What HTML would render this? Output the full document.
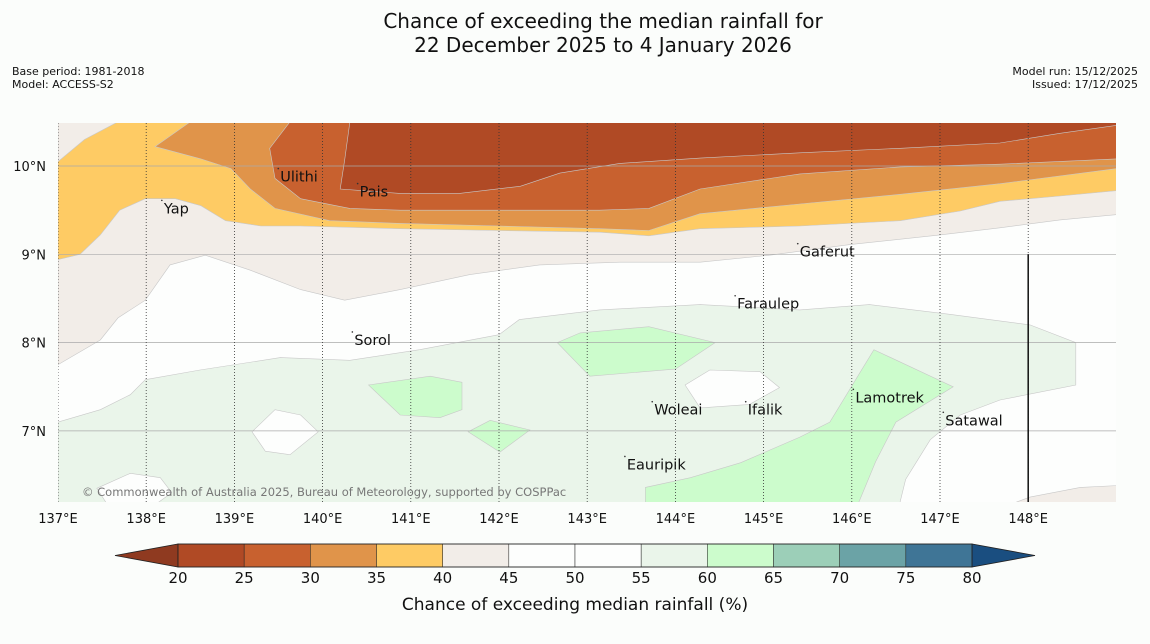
<!DOCTYPE html>
<html><head><meta charset="utf-8"><style>
body{margin:0;background:#fbfdfb;font-family:"DejaVu Sans","Liberation Sans",sans-serif;}
#wrap{position:relative;width:1150px;height:644px;overflow:hidden;}
</style></head><body>
<div id="wrap">
<svg id="svg" width="1150" height="644" xmlns="http://www.w3.org/2000/svg" font-family="DejaVu Sans, Liberation Sans, sans-serif">
<text x="603" y="28" text-anchor="middle" font-size="20" fill="#111">Chance of exceeding the median rainfall for</text>
<text x="603" y="52" text-anchor="middle" font-size="20" fill="#111">22 December 2025 to 4 January 2026</text>
<text x="12" y="75" font-size="11" fill="#111">Base period: 1981-2018</text>
<text x="12" y="88" font-size="11" fill="#111">Model: ACCESS-S2</text>
<text x="1138" y="75" font-size="11" text-anchor="end" fill="#111">Model run: 15/12/2025</text>
<text x="1138" y="88" font-size="11" text-anchor="end" fill="#111">Issued: 17/12/2025</text>
<defs><clipPath id="mc"><rect x="58" y="123" width="1058" height="379"/></clipPath></defs>
<g id="map" clip-path="url(#mc)"></g>
<g id="over"></g>
<g id="cbar"></g>
</svg>
</div>
<script>
const lonTicks=[137,138,139,140,141,142,143,144,145,146,147,148];
const latTicks=[7,8,9,10];
const cbLevels=[20,25,30,35,40,45,50,55,60,65,70,75,80];
const cbColors=["#b04a25","#c8612f","#e0944a","#fecb64","#f2ede8","#fdfefd","#fdfefd","#eaf5ea","#ccfccc","#9ccfb8","#6ba3a6","#3f7596"];
// contour regions [lon,lat]
const beige=[[137,10.5],[137,7.75],[137.48,8.03],[137.68,8.28],[137.99,8.48],[138.27,8.88],[138.67,8.99],[139.18,8.82],[139.75,8.6],[140.25,8.48],[140.88,8.6],[141.67,8.77],[142.46,8.88],[143.37,8.91],[144.28,8.91],[145.07,8.99],[145.98,9.11],[147,9.22],[147.68,9.3],[148.36,9.39],[149,9.45],[149,10.5]];
const yellow=[[137.68,10.5],[137.3,10.3],[137,10.05],[137,8.94],[137.25,9],[137.48,9.22],[137.7,9.5],[137.99,9.63],[138.33,9.63],[138.62,9.55],[138.9,9.38],[139.3,9.32],[139.75,9.32],[140.88,9.29],[142,9.27],[143.14,9.25],[143.7,9.21],[144.28,9.29],[145.41,9.32],[146.55,9.38],[147.23,9.49],[147.68,9.6],[148.36,9.66],[149,9.72],[149,10.5]];
const orange=[[138.5,10.5],[138.1,10.22],[138.62,10.08],[138.96,9.97],[139.18,9.74],[139.46,9.52],[140.08,9.38],[140.88,9.35],[142,9.32],[143.14,9.29],[143.7,9.27],[144.28,9.46],[145.41,9.57],[146.55,9.68],[147.68,9.8],[149,9.97],[149,10.5]];
const red=[[139.63,10.5],[139.4,10.2],[139.46,9.86],[139.75,9.63],[140.31,9.52],[140.88,9.5],[142,9.5],[143.14,9.5],[143.7,9.52],[144.28,9.74],[145.41,9.91],[146.55,9.99],[147.68,10.02],[149,10.08],[149,10.5]];
const dark=[[140.31,10.5],[140.25,10.07],[140.2,9.74],[140.88,9.69],[141.55,9.69],[142.24,9.77],[142.69,9.92],[143.37,10.03],[144.28,10.09],[145.41,10.15],[146.55,10.2],[147.68,10.26],[148.36,10.37],[149,10.46],[149,10.5]];
const green=[[137,6.0],[137,7.1],[137.48,7.24],[137.82,7.41],[137.99,7.58],[138.61,7.69],[139.52,7.83],[140.31,7.8],[141.1,7.92],[142,8.09],[142.23,8.26],[143.14,8.37],[144.28,8.43],[145.41,8.37],[146.2,8.43],[147.11,8.32],[148.02,8.2],[148.54,8.0],[148.54,7.52],[147.68,7.35],[147.23,7.18],[146.89,6.9],[146.61,6.45],[146.5,6.0]];
const white1=[[139.2,6.99],[139.46,7.24],[139.75,7.18],[139.95,6.99],[139.63,6.73],[139.35,6.77]];
const white2=[[137.44,6.35],[137.82,6.52],[138.16,6.47],[138.29,6.3],[138.04,6.12],[137.59,6.12]];
const white3=[[144.11,7.52],[144.39,7.69],[144.96,7.67],[145.18,7.49],[144.84,7.3],[144.28,7.26]];
const beige2=[[147.34,6.0],[148.02,6.25],[148.59,6.36],[149,6.38],[149,6.0]];
const bg1=[[140.52,7.52],[141.22,7.62],[141.58,7.55],[141.58,7.24],[141.33,7.15],[140.88,7.18]];
const bg2=[[141.65,6.99],[141.9,7.12],[142.35,7.01],[142.01,6.76]];
const bg3=[[142.66,8.0],[142.92,8.11],[143.7,8.18],[144.45,8.0],[144.0,7.7],[143.03,7.62]];
const bg4=[[143.66,6.0],[143.66,6.36],[144.17,6.47],[144.74,6.64],[145.41,6.93],[145.75,7.1],[146.25,7.92],[147.15,7.5],[146.5,7.1],[146.27,6.65],[146.0,6.0]];
const places=[["Yap",138.2,9.52],["Ulithi",139.52,9.88],["Pais",140.42,9.71],["Gaferut",145.41,9.03],["Faraulep",144.7,8.44],["Sorol",140.36,8.03],["Woleai",143.76,7.24],["Ifalik",144.82,7.24],["Lamotrek",146.04,7.38],["Satawal",147.06,7.12],["Eauripik",143.45,6.62]];
const X=lon=>58+(lon-137)*88.2;
const Y=lat=>166+(10-lat)*88.3;
const NS="http://www.w3.org/2000/svg";
function mk(t,a,p){const e=document.createElementNS(NS,t);for(const k in a)e.setAttribute(k,a[k]);p.appendChild(e);return e;}
const map=document.getElementById('map'),over=document.getElementById('over'),cb=document.getElementById('cbar');
let r=mk('rect',{x:58,y:123,width:1058,height:379,fill:'#fdfefd'},map);


const regions=[["region-lt45",beige,"#f2ede8"],["region-lt40",yellow,"#fecb64"],["region-lt35",orange,"#e0944a"],["region-lt30",red,"#c8612f"],["region-lt25",dark,"#b04a25"],["region-gt55",green,"#eaf5ea"],["region-45-55-a",white1,"#fdfefd"],["region-45-55-b",white2,"#fdfefd"],["region-gt60-a",bg1,"#ccfccc"],["region-gt60-b",bg2,"#ccfccc"],["region-gt60-c",bg3,"#ccfccc"],["region-gt60-d",bg4,"#ccfccc"],["region-45-55-c",white3,"#fdfefd"],["region-lt45-se",beige2,"#f2ede8"]];
regions.forEach(([n,pts,c])=>{
 const p=mk('polygon',{points:pts.map(q=>X(q[0]).toFixed(1)+','+Y(q[1]).toFixed(1)).join(' '),fill:c,stroke:'#c8c8c8','stroke-width':0.6},map);
 
 
});
latTicks.forEach(l=>{
 const ln=mk('line',{x1:58,x2:1116,y1:Y(l),y2:Y(l),stroke:'#aaa','stroke-width':0.7},map);
 
 
 const t=mk('text',{x:46,y:Y(l)+5,'text-anchor':'end','font-size':13,fill:'#111'},over);t.textContent=l+'°N';
 
 
});
lonTicks.forEach(l=>{
 const ln=mk('line',{x1:X(l),x2:X(l),y1:123,y2:502,stroke:'#333','stroke-width':0.8,'stroke-dasharray':'1,2'},map);
 
 
 const t=mk('text',{x:X(l),y:523,'text-anchor':'middle','font-size':13,fill:'#111'},over);t.textContent=l+'°E';
 
 
});
let bl=mk('line',{x1:X(148),x2:X(148),y1:Y(9),y2:502,stroke:'#111','stroke-width':1.5},over);


places.forEach(([n,lo,la])=>{
 const t=mk('text',{x:X(lo),y:Y(la)+5,'font-size':14.5,fill:'#111'},over);t.textContent=n;
 
 
 const d=mk('circle',{cx:X(lo)-2,cy:Y(la)-8,r:0.8,fill:'#333'},over);
 
 
});
let ct=mk('text',{x:82,y:496,'font-size':11.5,fill:'#777'},over);ct.textContent='© Commonwealth of Australia 2025, Bureau of Meteorology, supported by COSPPac';


// colorbar
const cx=v=>178+(v-20)*(972-178)/60;
const cy0=544,ch=23;
let tl=mk('polygon',{points:`115,${cy0+ch/2} ${cx(20)},${cy0} ${cx(20)},${cy0+ch}`,fill:'#8f3a20',stroke:'#222','stroke-width':0.8},cb);


let tr=mk('polygon',{points:`1035,${cy0+ch/2} ${cx(80)},${cy0} ${cx(80)},${cy0+ch}`,fill:'#1a4e80',stroke:'#222','stroke-width':0.8},cb);


cbColors.forEach((c,i)=>{
 const b=mk('rect',{x:cx(cbLevels[i]),y:cy0,width:cx(cbLevels[i+1])-cx(cbLevels[i]),height:ch,fill:c,stroke:'#222','stroke-width':0.5},cb);
 
 
});
let fr=mk('rect',{x:cx(20),y:cy0,width:cx(80)-cx(20),height:ch,fill:'none',stroke:'#222','stroke-width':0.8},cb);


cbLevels.forEach(v=>{
 const t=mk('text',{x:cx(v),y:583,'text-anchor':'middle','font-size':15,fill:'#111'},cb);t.textContent=v;
 
 
});
let cl=mk('text',{x:575,y:610,'text-anchor':'middle','font-size':17,fill:'#111'},cb);cl.textContent='Chance of exceeding median rainfall (%)';


</script>
</body></html>
